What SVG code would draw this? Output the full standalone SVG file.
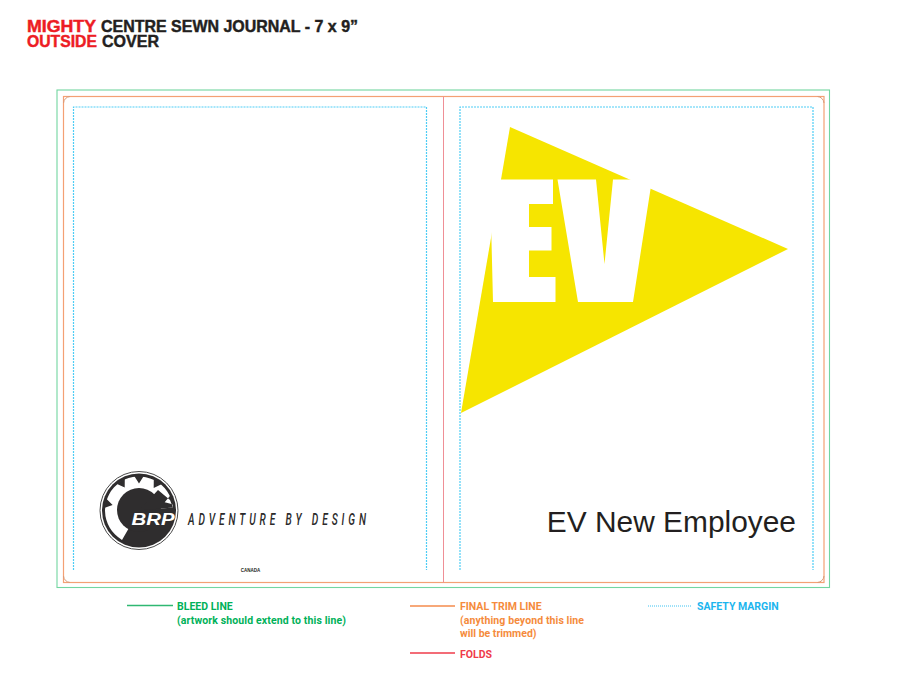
<svg xmlns="http://www.w3.org/2000/svg" width="900" height="675" viewBox="0 0 900 675">
<style>
.t{font-family:"Liberation Sans",Arial,sans-serif;font-weight:700;font-size:16.5px;fill:#231f20;stroke:#231f20;stroke-width:.45}
.r{fill:#ed1c24;stroke:#ed1c24}
.l{font-family:"Roboto","Liberation Sans",sans-serif;font-weight:700;font-size:10.5px}
.g{fill:#00b159}.o{fill:#f58b3c}.c{fill:#1cb5ee}.f{fill:#ef3b4a}
.dot{fill:none;stroke:#4fcdf5;stroke-width:1.200;stroke-dasharray:2 1}
</style>
<rect width="900" height="675" fill="#fff"/>
<g id="title">
<text class="t r" x="27" y="32" textLength="69" lengthAdjust="spacingAndGlyphs">MIGHTY</text>
<text class="t" x="101" y="32" textLength="257" lengthAdjust="spacingAndGlyphs">CENTRE SEWN JOURNAL - 7 x 9”</text>
<text class="t r" x="27" y="46.500" textLength="70" lengthAdjust="spacingAndGlyphs">OUTSIDE</text>
<text class="t" x="102" y="46.500" textLength="57" lengthAdjust="spacingAndGlyphs">COVER</text>
</g>
<g id="artwork-right">
<polygon points="510,127 788,249 461,413" fill="#f6e500"/>
<polygon fill="#fff" points="493,302 555.500,302 555.500,277 529,277 529,250.500 551.500,250.500 551.500,227 529,227 529,204 553,204 553,179.500 490,179.500"/>
<polygon fill="#fff" points="557.500,179.500 596,179.500 604.500,264 613,179.500 652,179.500 633,302 578,302"/>
<text x="796" y="532" text-anchor="end" font-family="'Liberation Sans',Arial,sans-serif" font-size="29.900" fill="#231f20">EV New Employee</text>
</g>
<g id="artwork-left">
<circle cx="139" cy="510.500" r="39" fill="#fff" stroke="#4a4a4a" stroke-width="1"/>
<circle cx="139" cy="510.500" r="37" fill="#2f2d2e"/>
<path fill="#fff" d="M122 539.900A34 34 0 1 1 172.900 507.500L139 510.500Z"/>
<circle cx="139" cy="510" r="22" fill="#2f2d2e"/>
<path fill="#2f2d2e" d="M139 510.500L172.900 507.500L170 500L158 490ZM104.100 508.100L106.100 498.500L112.600 504.900ZM116.500 483.700L124.800 478.500L124.700 487.600ZM134.100 475.800L143.900 475.800L139 483.500ZM153.800 478.800L162 484.100L153.700 487.900ZM170.500 495.200L173.500 504.400L164.700 502.200Z"/>
<text x="131.500" y="525" font-family="'Liberation Sans',Arial,sans-serif" font-weight="700" font-style="italic" font-size="16" fill="#fff" textLength="43" lengthAdjust="spacingAndGlyphs">BRP</text>
<text transform="translate(188,525) scale(.62,1)" font-family="'Roboto','Liberation Sans',sans-serif" font-weight="500" font-style="italic" font-size="16.500" fill="#2b2a2a" textLength="287">ADVENTURE BY DESIGN</text>
<text x="250.500" y="572" text-anchor="middle" font-family="'Liberation Sans',Arial,sans-serif" font-weight="700" font-size="4.500" fill="#231f20">CANADA</text>
</g>
<g id="guides">
<rect x="57" y="90" width="772.500" height="497.500" fill="none" stroke="#72d6a0" stroke-width="1.100"/>
<rect x="63.500" y="96.500" width="760.500" height="486" fill="none" stroke="#f4a074" stroke-width="1.200"/>
<path d="M63.500 103A7 7 0 0 1 70 96.500M817.500 96.500A7 7 0 0 1 824 103M63.500 576A7 7 0 0 0 70 582.500M817.500 582.500A7 7 0 0 0 824 576" fill="none" stroke="#d99a78" stroke-width="1"/>
<line x1="443.500" y1="96.500" x2="443.500" y2="582.500" stroke="#ef8f96" stroke-width="1"/>
<path class="dot" d="M73.500 570V107H426.500V570"/>
<path class="dot" d="M460 570V107H813V570"/>
</g>
<g id="legend">
<line x1="127" y1="605.500" x2="173" y2="605.500" stroke="#2fb872" stroke-width="1.600"/>
<text class="l g" x="177" y="610">BLEED LINE</text>
<text class="l g" x="177" y="623.500" textLength="169">(artwork should extend to this line)</text>
<line x1="410" y1="606" x2="455" y2="606" stroke="#f58b4c" stroke-width="1.500"/>
<text class="l o" x="460" y="610">FINAL TRIM LINE</text>
<text class="l o" x="460" y="623.500" textLength="124">(anything beyond this line</text>
<text class="l o" x="460" y="636.500">will be trimmed)</text>
<line x1="410" y1="653" x2="455" y2="653" stroke="#ef3b4a" stroke-width="1.500"/>
<text class="l f" x="460" y="657.500">FOLDS</text>
<line x1="648" y1="606" x2="692" y2="606" stroke="#3cc3f2" stroke-width="1" stroke-dasharray="1 1"/>
<text class="l c" x="697" y="610">SAFETY MARGIN</text>
</g>
</svg>
